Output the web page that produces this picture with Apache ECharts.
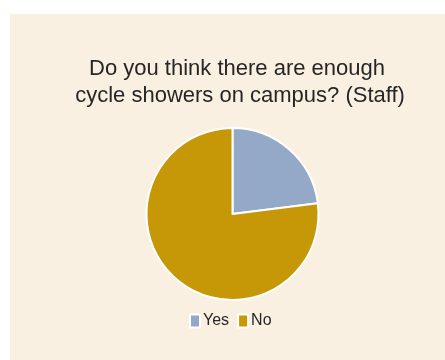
<!DOCTYPE html>
<html>
<head>
<meta charset="utf-8">
<script src="https://cdn.jsdelivr.net/npm/echarts@6/dist/echarts.min.js"></script>
<style>
  html, body { margin: 0; padding: 0; background: #fff; }
  #chart { position: absolute; left: 10px; top: 14px; width: 435px; height: 346px; }
</style>
</head>
<body>
<div id="chart"></div>
<script>
const TITLE = "Do you think there are enough\n cycle showers on campus? (Staff)";
const categories = ["Yes", "No"];
const values = [23, 77];
const colors = ["#94A8C8", "#C69807"];

const chart = echarts.init(document.getElementById("chart"));
chart.setOption({
  backgroundColor: "#F9F0E2",
  animation: false,
  color: colors,
  title: {
    text: TITLE,
    left: 222,
    top: 36,
    textAlign: "center",
    textStyle: {
      fontFamily: "Liberation Sans",
      fontSize: 22,
      fontWeight: "normal",
      color: "#262626",
      lineHeight: 27,
    },
  },
  legend: {
    data: categories,
    left: 179,
    top: 299,
    padding: 0,
    itemWidth: 10,
    itemHeight: 13,
    itemGap: 8,
    icon: "rect",
    textStyle: { fontFamily: "Liberation Sans", fontSize: 16, color: "#262626", padding: [0, 0, 0, -2] },
  },
  series: [
    {
      type: "pie",
      center: [222.5, 200],
      radius: 86,
      startAngle: 90,
      clockwise: true,
      label: { show: false },
      labelLine: { show: false },
      itemStyle: { borderColor: "#fff", borderWidth: 2 },
      data: categories.map((c, i) => ({ name: c, value: values[i] })),
    },
  ],
});
</script>
</body>
</html>
